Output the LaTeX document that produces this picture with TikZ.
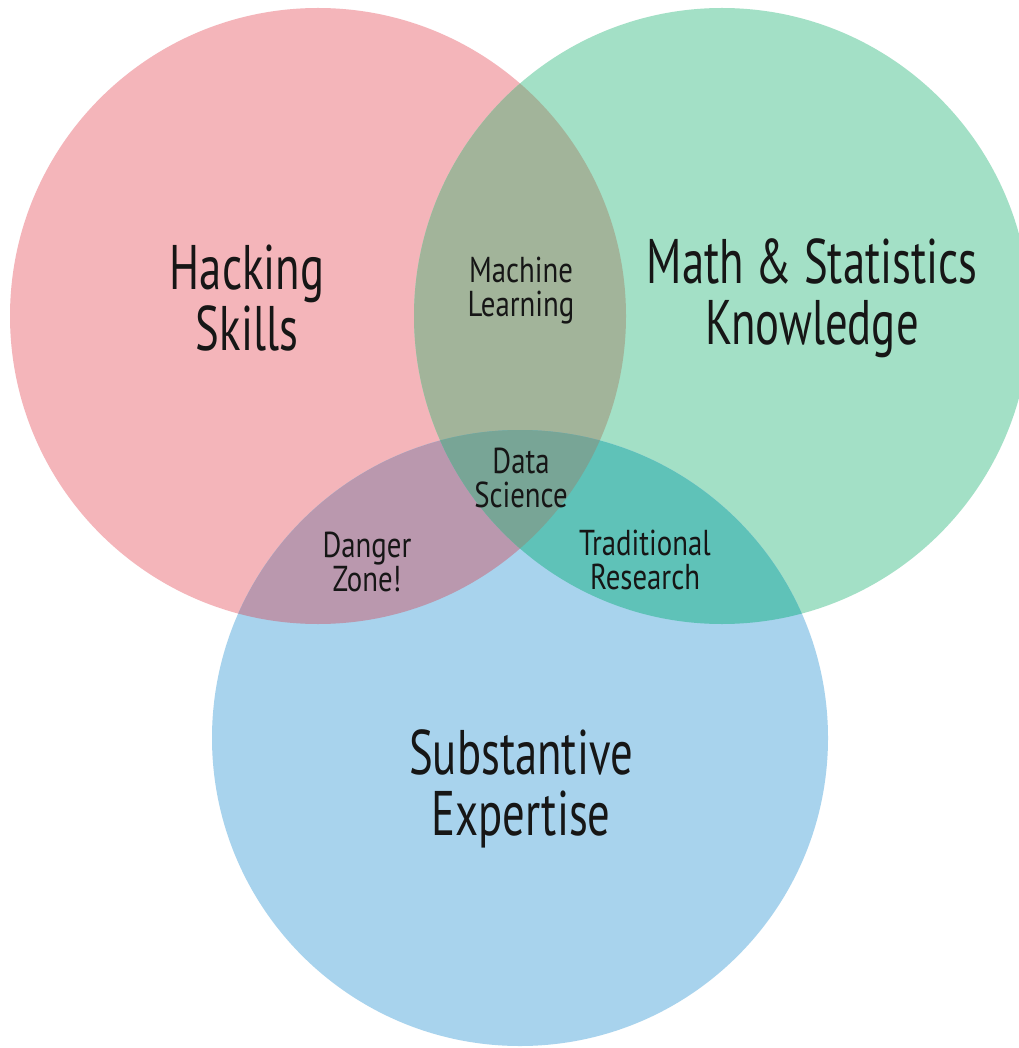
\documentclass[tikz,border=0pt]{standalone}
\usepackage{fontspec}
\setmainfont[FakeStretch=0.71]{PT Sans}
\newfontfamily\smallfam[FakeStretch=0.8]{PT Sans}
\definecolor{cred}{HTML}{F4B5BA}
\definecolor{cgreen}{HTML}{A3E0C6}
\definecolor{cblue}{HTML}{A8D3ED}
\definecolor{crg}{HTML}{A2B49A}
\definecolor{crb}{HTML}{BA98AE}
\definecolor{cgb}{HTML}{5FC2B8}
\definecolor{crgb}{HTML}{78A596}
\definecolor{ctext}{HTML}{161616}
\begin{document}
\begin{tikzpicture}[x=1pt,y=-1pt,
  biglabel/.style={align=center,text=ctext,font=\fontsize{63}{61}\selectfont,inner sep=0pt},
  smalllabel/.style={align=center,text=ctext,font=\smallfam\fontsize{36}{34}\selectfont,inner sep=0pt}]
\useasboundingbox (0,0) rectangle (1018,1048);
\fill[white] (0,0) rectangle (1018,1048);
\coordinate (R) at (318,316);
\coordinate (G) at (722,316);
\coordinate (B) at (520,738);
\def\rad{308}
\fill[cred] (R) circle[radius=\rad];
\fill[cgreen] (G) circle[radius=\rad];
\fill[cblue] (B) circle[radius=\rad];
\begin{scope}
  \clip (R) circle[radius=\rad];
  \fill[crg] (G) circle[radius=\rad];
  \fill[crb] (B) circle[radius=\rad];
\end{scope}
\begin{scope}
  \clip (G) circle[radius=\rad];
  \fill[cgb] (B) circle[radius=\rad];
  \clip (R) circle[radius=\rad];
  \fill[crgb] (B) circle[radius=\rad];
\end{scope}
\node[biglabel] (hack) at (247,298) {Hacking\\Skills};
\node[biglabel] (math) at (812,298) {Math \& Statistics\\Knowledge};
\node[biglabel] (subst) at (521,789) {Substantive\\Expertise};
\node[smalllabel] (ml) at (521,291) {Machine\\Learning};
\node[smalllabel] (ds) at (521,478) {Data\\Science};
\node[smalllabel] (dz) at (367,562) {Danger\\Zone!};
\node[smalllabel] (tr) at (645,560) {Traditional\\Research};
\end{tikzpicture}
\end{document}
